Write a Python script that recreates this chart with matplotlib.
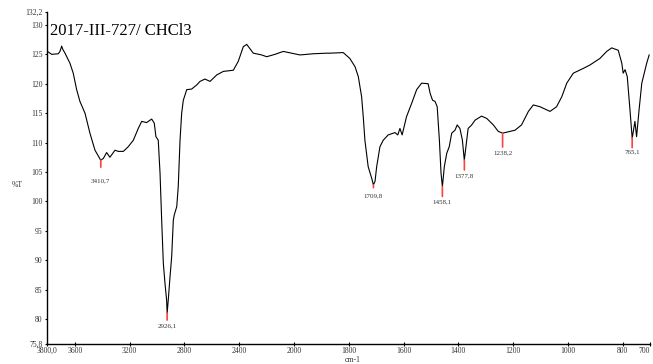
import numpy as np
import matplotlib
matplotlib.use("Agg")
import matplotlib.pyplot as plt

plt.rcParams['font.family'] = ['Liberation Serif', 'DejaVu Serif']

# Spectrum (wavenumber in cm-1, %T)
wavenumber = [3794, 3769, 3721, 3709, 3696, 3689, 3672, 3636, 3612, 3587,
              3563, 3526, 3490, 3453, 3411, 3392, 3368, 3344, 3307, 3283,
              3246, 3210, 3173, 3137, 3112, 3076, 3039, 3020, 3008, 2991,
              2978, 2966, 2954, 2942, 2930, 2926, 2918, 2905, 2893, 2881,
              2874, 2856, 2845, 2832, 2820, 2808, 2783, 2747, 2710, 2686,
              2650, 2613, 2564, 2516, 2443, 2407, 2370, 2345, 2297, 2236,
              2199, 2139, 2078, 2017, 1978, 1930, 1881, 1869, 1820, 1796,
              1777, 1765, 1753, 1747, 1741, 1729, 1716, 1710, 1704, 1698,
              1686, 1674, 1656, 1631, 1621, 1613, 1605, 1589, 1570, 1552,
              1534, 1510, 1503, 1494, 1485, 1477, 1469, 1463, 1458, 1451,
              1442, 1433, 1424, 1412, 1404, 1394, 1385, 1378, 1369, 1364,
              1351, 1339, 1315, 1296, 1272, 1254, 1238, 1211, 1193, 1169,
              1144, 1126, 1102, 1065, 1041, 1022, 1004, 980, 944, 919,
              883, 858, 840, 816, 803, 798, 791, 783, 773, 765,
              755, 749, 740, 730, 712, 703]
transmittance = [125.4, 125.0, 125.1, 125.5, 126.4, 125.9, 125.2, 123.5, 121.8, 119.0,
                 117.0, 115.0, 111.6, 108.7, 107.0, 107.3, 108.3, 107.5, 108.7, 108.5,
                 108.5, 109.3, 110.4, 112.4, 113.6, 113.4, 114.0, 113.3, 111.0, 110.4,
                 104.8, 96.8, 89.5, 86.1, 83.2, 81.0, 83.2, 87.2, 90.6, 96.8,
                 97.7, 99.1, 102.5, 110.4, 115.0, 117.2, 119.0, 119.1, 119.8, 120.4,
                 120.8, 120.4, 121.5, 122.1, 122.3, 123.8, 126.3, 126.7, 125.2, 124.9,
                 124.6, 125.0, 125.5, 125.2, 124.9, 125.1, 125.2, 125.2, 125.3, 124.3,
                 122.9, 121.2, 117.8, 114.4, 110.4, 105.9, 103.9, 102.8, 103.4, 105.9,
                 109.3, 110.4, 111.3, 111.7, 111.3, 112.4, 111.3, 114.4, 116.7, 119.0,
                 120.1, 120.0, 118.4, 117.2, 117.0, 116.1, 110.4, 104.8, 102.5, 105.9,
                 108.2, 109.3, 111.6, 112.1, 113.0, 112.4, 110.4, 107.0, 110.4, 112.4,
                 113.0, 113.8, 114.5, 114.1, 113.0, 111.9, 111.6, 111.9, 112.1, 113.0,
                 115.3, 116.4, 116.1, 115.3, 116.1, 117.8, 120.1, 121.8, 122.6, 123.2,
                 124.3, 125.5, 126.1, 125.7, 123.5, 121.8, 122.4, 121.2, 115.5, 110.7,
                 113.6, 111.0, 115.5, 120.1, 123.5, 124.9]

# Picked peaks
peak_wn = [3410.7, 2926.1, 1709.8, 1458.1, 1377.8, 1238.2, 765.1]
peak_t = [107.0, 81.0, 102.8, 102.5, 107.0, 111.6, 110.8]
peak_labels = ["3410,7", "2926,1", "1709,8", "1458,1", "1377,8", "1238,2", "765,1"]

x_ticks = [3800, 3600, 3200, 2800, 2400, 2000, 1800, 1600, 1400, 1200, 1000, 800, 700]
x_ticklabels = ["3800,0", "3600", "3200", "2800", "2400", "2000", "1800",
                "1600", "1400", "1200", "1000", "800", "700"]
y_ticks = [75.8, 80, 85, 90, 95, 100, 105, 110, 115, 120, 125, 130, 132.2]
y_ticklabels = ["75,8", "80", "85", "90", "95", "100", "105", "110",
                "115", "120", "125", "130", "132,2"]


# the scale is compressed by 2 above 2000 cm-1
def fwd(x):
    x = np.asarray(x, dtype=float)
    return np.where(x > 2000, 2000 + (x - 2000) / 2, x)


def inv(u):
    u = np.asarray(u, dtype=float)
    return np.where(u > 2000, 2000 + 2 * (u - 2000), u)


fig = plt.figure(figsize=(6.53, 3.64), dpi=100)
ax = fig.add_axes([0.0727, 0.0558, 0.9227, 0.9112])

ax.plot(wavenumber, transmittance, color="black", lw=0.8)

ax.set_xscale("function", functions=(fwd, inv))
ax.set_xlim(3800, 700)
ax.set_ylim(75.8, 132.2)

ax.set_xticks(x_ticks)
ax.set_xticklabels(x_ticklabels)
ax.set_yticks(y_ticks)
ax.set_yticklabels(y_ticklabels)
ax.minorticks_off()
ax.tick_params(axis="x", direction="inout", length=3, width=0.8,
               labelsize=5.5, pad=1, labelcolor="#333333")
ax.tick_params(axis="y", direction="out", length=1.5, width=0.8,
               labelsize=5.5, pad=2, labelcolor="#333333")
# keep the last label inside the figure
ax.get_xticklabels()[-1].set_horizontalalignment("right")

ax.spines["top"].set_visible(False)
ax.spines["right"].set_visible(False)
ax.spines["left"].set_linewidth(1.0)
ax.spines["bottom"].set_linewidth(1.0)

# red marker below each peak and its label
red_len = [5, 5, 2, 7, 7, 10, 7]
label_drop = [15, 9, 8, 11, 11, 14, 10]
for wn, t, lab, rl, ld in zip(peak_wn, peak_t, peak_labels, red_len, label_drop):
    ax.annotate("", xy=(wn, t), xytext=(0, -rl), textcoords="offset points",
                arrowprops=dict(arrowstyle="-", color="#ff4040", lw=1.2,
                                shrinkA=0, shrinkB=0))
    ax.annotate(lab, xy=(wn, t), xytext=(0, -ld), textcoords="offset points",
                ha="center", va="center", fontsize=5, color="#333333")

ax.text(3780, 128.9, "2017-III-727/ CHCl3", fontsize=12, ha="left", va="center")

fig.text(0.026, 0.492, "%T", fontsize=5.5, ha="center", va="center", color="#333333")
fig.text(0.54, 0.011, "cm-1", fontsize=5.5, ha="center", va="center", color="#333333")

fig.savefig("out.png", dpi=100)
